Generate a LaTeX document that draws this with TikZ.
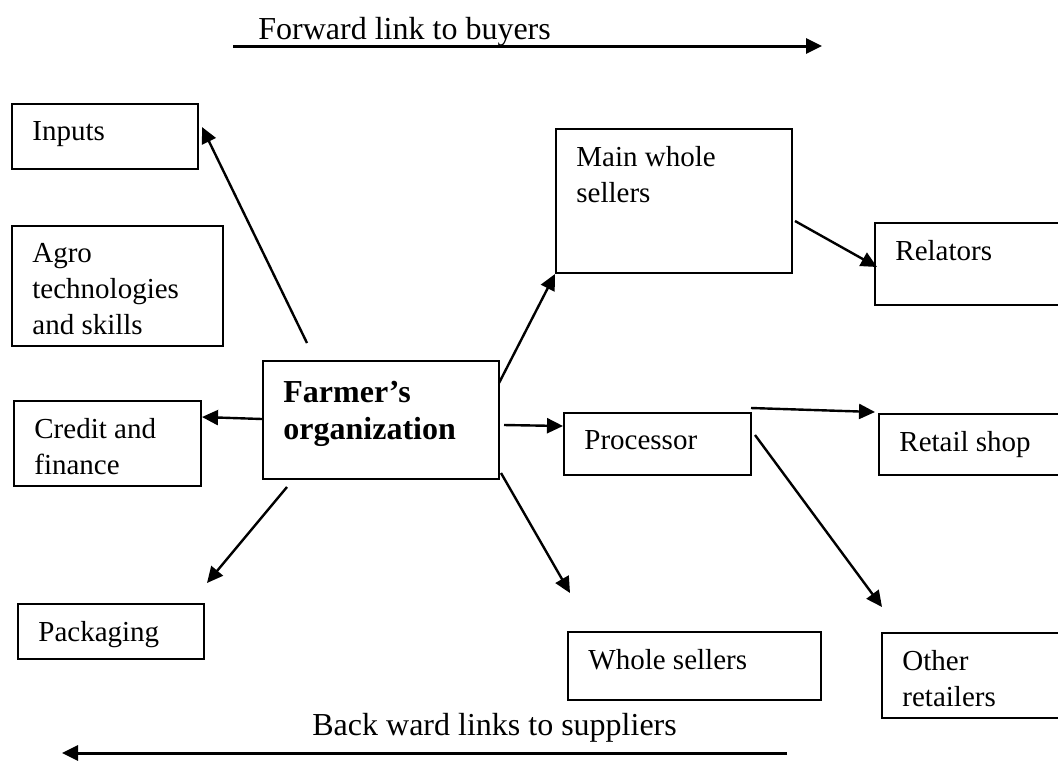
\documentclass[tikz,border=0pt]{standalone}
\usepackage{fontspec}
\setmainfont{Liberation Serif}
\usetikzlibrary{arrows.meta}
\newcommand{\boxfont}{\fontsize{14.5}{18}\selectfont}
\newcommand{\headfont}{\fontsize{16}{18.5}\selectfont}
\tikzset{
    common/.style={anchor=north west, draw, rectangle, line width=1pt, inner sep=0pt},
    boxsize/.style 2 args={minimum width=#1*0.5pt, minimum height=#2*0.5pt},
    boxtext/.style={anchor=north west, inner sep=0pt, align=left, font=\boxfont, xshift=10.5pt, yshift=-9pt},
    headtext/.style={anchor=north west, inner sep=0pt, align=left, font=\headfont\bfseries, xshift=10.5pt, yshift=-10.5pt},
    link/.style={-{Triangle[length=8pt, width=7.5pt]}, line width=1.2pt},
    mainlink/.style={link, line width=1.5pt},
    title/.style={anchor=base west, inner sep=0pt, font=\headfont}
}

\begin{document}
\begin{tikzpicture}[x=0.5pt, y=-0.5pt]
    \useasboundingbox (0,0) rectangle (1058,761);

    \node[title] (fwd) at (258,39) {Forward link to buyers};
    \node[title] (bwd) at (312,735) {Back ward links to suppliers};
    \coordinate (fwdstart) at (233,46);
    \coordinate (fwdend) at (822,46);
    \coordinate (bwdstart) at (787,753);
    \coordinate (bwdend) at (62,753);

    \node[common, boxsize={186}{65}, label={[boxtext]north west:Inputs}] (inputs) at (11,103) {};
    \node[common, boxsize={211}{120}, label={[boxtext]north west:{Agro\\technologies\\and skills}}] (agro) at (11,225) {};
    \node[common, boxsize={187}{85}, label={[boxtext]north west:{Credit and\\finance}}] (credit) at (13,400) {};
    \node[common, boxsize={186}{55}, label={[boxtext]north west:Packaging}] (packaging) at (17,603) {};
    \node[common, boxsize={236}{118}, label={[headtext]north west:{Farmer’s\\organization}}] (farmer) at (262,360) {};
    \node[common, boxsize={236}{144}, label={[boxtext]north west:{Main whole\\sellers}}] (mainws) at (555,128) {};
    \node[common, boxsize={187}{62}, label={[boxtext]north west:Processor}] (processor) at (563,412) {};
    \node[common, boxsize={253}{68}, label={[boxtext]north west:Whole sellers}] (wholes) at (567,631) {};
    \node[common, boxsize={190}{82}, label={[boxtext]north west:Relators}] (relators) at (874,222) {};
    \node[common, boxsize={186}{61}, label={[boxtext]north west:Retail shop}] (retail) at (878,413) {};
    \node[common, boxsize={183}{85}, label={[boxtext]north west:{Other\\retailers}}] (other) at (881,632) {};

    \draw[mainlink] (fwdstart) -- (fwdend);
    \draw[mainlink] (bwdstart) -- (bwdend);

    \draw[link] ([shift={(45,-17)}]farmer.north west) -- ([shift={(3,24)}]inputs.north east);
    \draw[link] ([shift={(0,-1)}]farmer.west) -- ([shift={(0,17)}]credit.north east);
    \draw[link] ([shift={(25,7)}]farmer.south west) -- ([shift={(2,-20)}]packaging.north east);
    \draw[link] ([shift={(-1,23)}]farmer.north east) -- (mainws.south west);
    \draw[link] ([shift={(4,5)}]farmer.east) -- ([shift={(0,14)}]processor.north west);
    \draw[link] ([shift={(1,-7)}]farmer.south east) -- ([shift={(3,-38)}]wholes.north west);
    \draw[link] ([shift={(-1,-4)}]processor.north east) -- ([shift={(-3,-1)}]retail.north west);
    \draw[link] ([shift={(3,23)}]processor.north east) -- ([shift={(1,-25)}]other.north west);
    \draw[link] ([shift={(2,93)}]mainws.north east) -- ([shift={(3,45)}]relators.north west);
\end{tikzpicture}
\end{document}
